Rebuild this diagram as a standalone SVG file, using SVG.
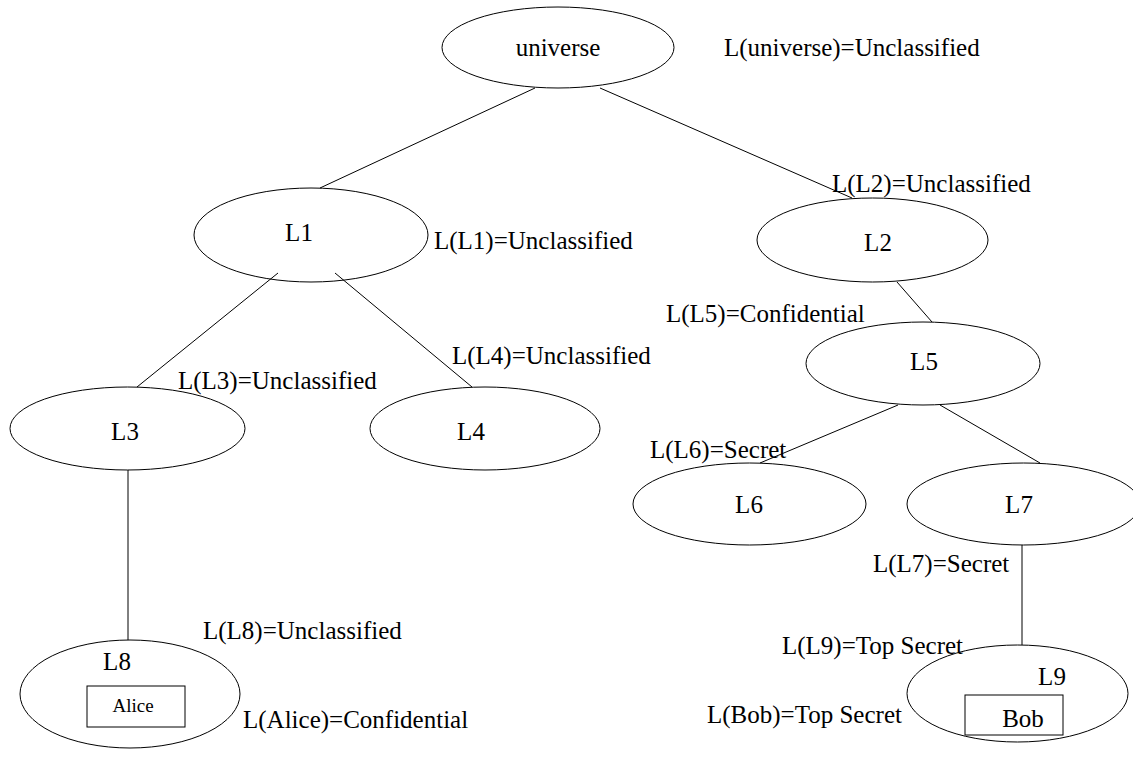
<svg xmlns="http://www.w3.org/2000/svg" width="1133" height="760" viewBox="0 0 1133 760">
<style>
.n{fill:none;stroke:#000;stroke-width:1}
.c line{stroke:#000;stroke-width:1}
text{font-family:'Liberation Serif',Tinos,'Times New Roman',Times,'DejaVu Serif',serif;font-size:25px;fill:#000}
.s{font-size:19px}
</style>
<rect width="1133" height="760" fill="#fff"/>
<g class="c" id="connectors">
<line x1="535" y1="88" x2="320" y2="188"/>
<line x1="600" y1="88" x2="852" y2="198"/>
<line x1="278" y1="273" x2="137" y2="387"/>
<line x1="335" y1="273" x2="472" y2="387"/>
<line x1="897" y1="282" x2="932" y2="322"/>
<line x1="898" y1="405" x2="760" y2="463"/>
<line x1="940" y1="405" x2="1040" y2="463"/>
<line x1="128" y1="470" x2="128" y2="640"/>
<line x1="1022" y1="545" x2="1022" y2="645"/>
</g>
<g id="universe"><ellipse class="n" cx="558" cy="47.5" rx="116" ry="40.5"/><text x="558" y="56" text-anchor="middle">universe</text></g>
<g id="L1"><ellipse class="n" cx="311" cy="235" rx="117" ry="47"/><text x="299" y="241" text-anchor="middle">L1</text></g>
<g id="L2"><ellipse class="n" cx="872.5" cy="240" rx="115.5" ry="42"/><text x="878" y="251" text-anchor="middle">L2</text></g>
<g id="L3"><ellipse class="n" cx="127.5" cy="428.5" rx="117.5" ry="41.5"/><text x="125" y="440" text-anchor="middle">L3</text></g>
<g id="L4"><ellipse class="n" cx="485" cy="428.5" rx="115" ry="41.5"/><text x="471" y="440" text-anchor="middle">L4</text></g>
<g id="L5"><ellipse class="n" cx="923" cy="363.5" rx="117" ry="41.5"/><text x="924" y="370" text-anchor="middle">L5</text></g>
<g id="L6"><ellipse class="n" cx="749.5" cy="504" rx="116.5" ry="41"/><text x="749" y="513" text-anchor="middle">L6</text></g>
<g id="L7"><ellipse class="n" cx="1023.5" cy="504" rx="116.5" ry="41"/><text x="1019" y="513" text-anchor="middle">L7</text></g>
<g id="L8"><ellipse class="n" cx="130" cy="694" rx="110" ry="54"/><text x="117" y="670" text-anchor="middle">L8</text><rect class="n" x="87" y="686" width="98" height="41"/><text class="s" x="133" y="712" text-anchor="middle">Alice</text></g>
<g id="L9"><ellipse class="n" cx="1017.5" cy="693.5" rx="110.5" ry="48.5"/><text x="1052" y="685" text-anchor="middle">L9</text><rect class="n" x="965" y="695" width="98" height="40"/><text x="1023" y="727" text-anchor="middle">Bob</text></g>
<g id="labels">
<text x="724" y="56">L(universe)=Unclassified</text>
<text x="434" y="249">L(L1)=Unclassified</text>
<text x="832" y="192">L(L2)=Unclassified</text>
<text x="666" y="322">L(L5)=Confidential</text>
<text x="452" y="364">L(L4)=Unclassified</text>
<text x="178" y="389">L(L3)=Unclassified</text>
<text x="650" y="458">L(L6)=Secret</text>
<text x="873" y="572">L(L7)=Secret</text>
<text x="203" y="639">L(L8)=Unclassified</text>
<text x="243" y="728">L(Alice)=Confidential</text>
<text x="782" y="654">L(L9)=Top Secret</text>
<text x="707" y="723">L(Bob)=Top Secret</text>
</g>
</svg>
